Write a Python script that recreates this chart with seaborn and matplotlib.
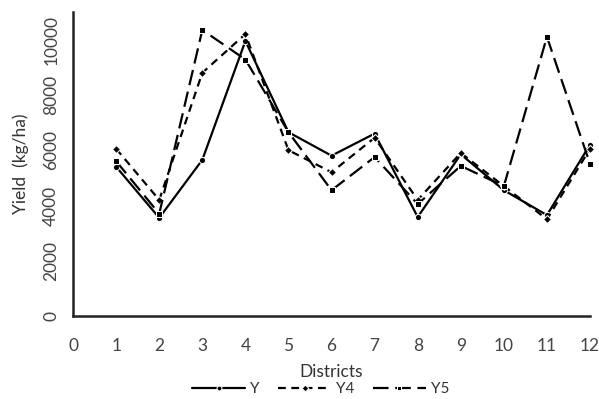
import matplotlib
matplotlib.use("Agg")
import matplotlib.pyplot as plt
import pandas as pd
import seaborn as sns

districts = list(range(1, 13))
y_vals = [5400, 3550, 5650, 9950, 6650, 5800, 6600, 3580, 5850, 4550, 3650, 6200]
y4_vals = [6050, 4200, 8800, 10200, 6000, 5200, 6450, 4200, 5900, 4700, 3500, 6050]
y5_vals = [5600, 3700, 10350, 9280, 6650, 4550, 5750, 4050, 5430, 4700, 10100, 5500]
series_names = ["Y", "Y4", "Y5"]

df = pd.DataFrame({
    "district": districts * 3,
    "yield": y_vals + y4_vals + y5_vals,
    "series": [s for s in series_names for _ in districts],
})

sns.set_style("white")
plt.rcParams["font.family"] = ["Lato", "DejaVu Sans"]

fig = plt.figure(figsize=(5.99, 3.99), dpi=100)
ax = fig.add_axes([0.122, 0.208, 0.863, 0.762])

sns.lineplot(
    data=df, x="district", y="yield", hue="series", style="series",
    palette={"Y": "black", "Y4": "black", "Y5": "black"},
    dashes={"Y": "", "Y4": (3.5, 2.5), "Y5": (7, 3)},
    markers={"Y": "o", "Y4": "D", "Y5": "s"},
    markersize=4.5, linewidth=1.6, ax=ax, legend=True, clip_on=False,
)

ax.set_xlim(0, 12)
ax.set_ylim(0, 11000)
ax.set_xticks(range(0, 13))
ax.set_yticks(range(0, 11000, 2000))
for s in ["top", "right"]:
    ax.spines[s].set_visible(False)
for s in ["left", "bottom"]:
    ax.spines[s].set_linewidth(1.8)
    ax.spines[s].set_color("#222222")
ax.tick_params(axis="both", direction="in", length=5, width=1.5, color="#222222",
               labelsize=12.5, labelcolor="#444444")
ax.tick_params(axis="x", pad=16)
ax.tick_params(axis="y", pad=10)
for lbl in ax.get_yticklabels():
    lbl.set_rotation(90)
    lbl.set_va("center")
ax.set_xlabel("Districts", fontsize=12.5, color="#333333", labelpad=7)
ax.set_ylabel("Yield  (kg/ha)", fontsize=12.5, color="#333333", labelpad=10)

handles, labels = ax.get_legend_handles_labels()
for h in handles:
    h.set_markersize(3.5)
ax.legend_.remove()
fig.legend(handles, labels, loc="lower center", ncol=3, frameon=False,
           fontsize=11, bbox_to_anchor=(0.535, 0.0), borderaxespad=0.1,
           borderpad=0.1, handlelength=3.5,
           columnspacing=1.2, handletextpad=0.3, labelcolor="#333333")

fig.savefig("out.png", dpi=100)
